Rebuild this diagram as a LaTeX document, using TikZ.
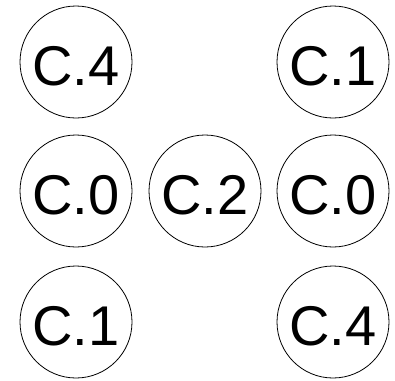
\documentclass[tikz,border=0pt]{standalone}
\usepackage{fontspec}
\setmainfont{Liberation Sans}

\begin{document}
\begin{tikzpicture}[x=1pt,y=-1pt,
  cell/.style={draw,circle,line width=0.8pt,minimum size=112pt,inner sep=0pt,
    font=\fontsize{56}{60}\selectfont,text height=46pt,text depth=0pt}]
  \useasboundingbox (0,0) rectangle (395,380);
  % top row
  \node[cell] (ctl) at (76,62) {C.4};
  \node[cell] (ctr) at (333,62) {C.1};
  % middle row
  \node[cell] (cml) at (76,191) {C.0};
  \node[cell] (cmm) at (205,191) {C.2};
  \node[cell] (cmr) at (333,191) {C.0};
  % bottom row
  \node[cell] (cbl) at (76,322) {C.1};
  \node[cell] (cbr) at (333,322) {C.4};
\end{tikzpicture}
\end{document}
